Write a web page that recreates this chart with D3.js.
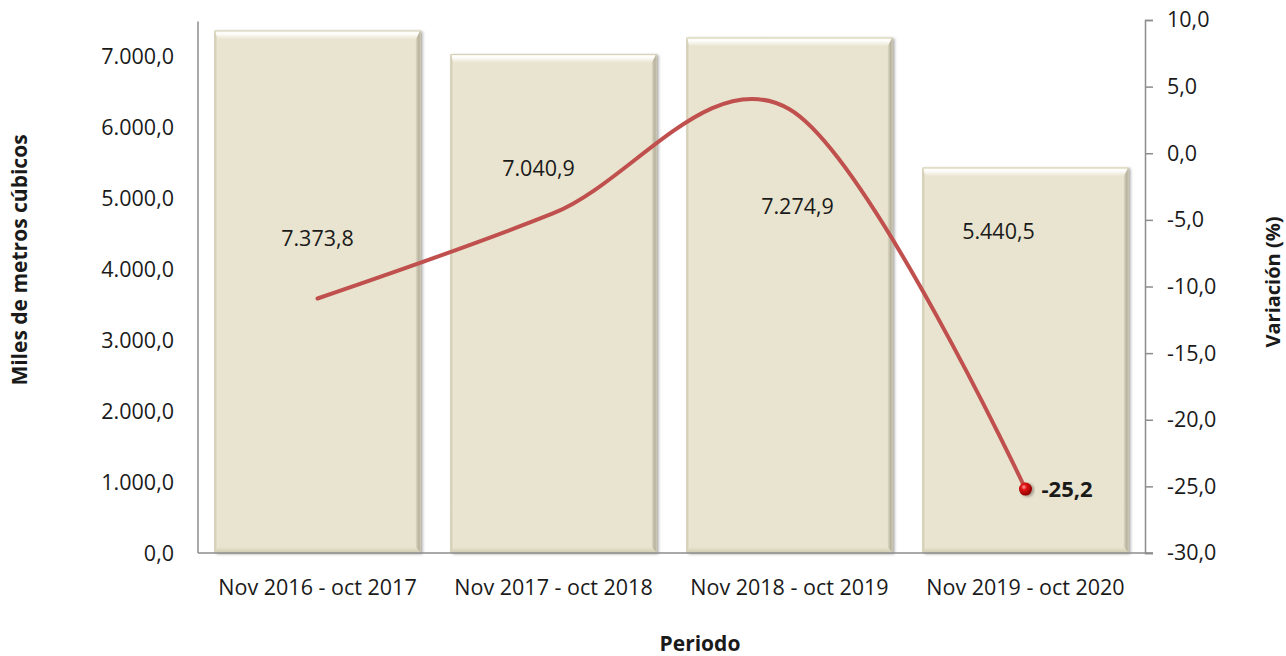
<!DOCTYPE html>
<html>
<head>
<meta charset="utf-8">
<script src="https://cdn.jsdelivr.net/npm/d3@7"></script>
<style>
  body { margin: 0; background: #fff; }
  text { font-family: "Open Sans", "Noto Sans", sans-serif; fill: #1a1a1a; }
  .tick-label { font-size: 21.5px; }
  .axis-title { font-size: 21px; font-weight: bold; }
</style>
</head>
<body>
<svg id="chart"></svg>
<script>
// Datos
const periodos = ["Nov 2016 - oct 2017", "Nov 2017 - oct 2018", "Nov 2018 - oct 2019", "Nov 2019 - oct 2020"];
const volumen = [7373.8, 7040.9, 7274.9, 5440.5];
const variacion = [-10.9, -4.5, 3.3, -25.2];
const ticksIzq = [0, 1000, 2000, 3000, 4000, 5000, 6000, 7000];
const ticksDer = [-30, -25, -20, -15, -10, -5, 0, 5, 10];

// Posición de las etiquetas de las barras (desplazamiento x en px, altura en unidades del eje izq.)
const etiquetaDx = [0, -15, 8, -27];
const etiquetaY = [4445, 5433, 4883, 4544];

const width = 1286, height = 656;
const margin = { top: 20, right: 141, bottom: 103, left: 198 };

const svg = d3.select("#chart").attr("width", width).attr("height", height);

const fmt = d3.formatLocale({ decimal: ",", thousands: ".", grouping: [3], minus: "-" }).format(",.1f");

const x = d3.scaleBand()
    .domain(periodos)
    .range([margin.left, width - margin.right])
    .paddingInner(0.127)
    .paddingOuter(0.07);

const yL = d3.scaleLinear().domain([0, 7500]).range([height - margin.bottom, 21.5]);
const yR = d3.scaleLinear().domain([-30, 10]).range([height - margin.bottom, margin.top]);

const defs = svg.append("defs");
const sh = defs.append("filter").attr("id", "sombra").attr("x", "-10%").attr("y", "-10%").attr("width", "130%").attr("height", "130%");
sh.append("feDropShadow").attr("dx", 2).attr("dy", 1).attr("stdDeviation", 1.8).attr("flood-color", "#000").attr("flood-opacity", 0.35);

const gTop = defs.append("linearGradient").attr("id", "bTop").attr("x1", 0).attr("y1", 0).attr("x2", 0).attr("y2", 1);
gTop.append("stop").attr("offset", "0%").attr("stop-color", "#f4f0de");
gTop.append("stop").attr("offset", "30%").attr("stop-color", "#ffffff");
gTop.append("stop").attr("offset", "100%").attr("stop-color", "#e9e4cf");

const gRight = defs.append("linearGradient").attr("id", "bRight").attr("x1", 0).attr("y1", 0).attr("x2", 1).attr("y2", 0);
gRight.append("stop").attr("offset", "0%").attr("stop-color", "#e2ddc6");
gRight.append("stop").attr("offset", "100%").attr("stop-color", "#9e9a88");

const gBot = defs.append("linearGradient").attr("id", "bBot").attr("x1", 0).attr("y1", 0).attr("x2", 0).attr("y2", 1);
gBot.append("stop").attr("offset", "0%").attr("stop-color", "#e9e4cf");
gBot.append("stop").attr("offset", "100%").attr("stop-color", "#cfc9b0");

const gLeft = defs.append("linearGradient").attr("id", "bLeft").attr("x1", 0).attr("y1", 0).attr("x2", 1).attr("y2", 0);
gLeft.append("stop").attr("offset", "0%").attr("stop-color", "#c9c4ad");
gLeft.append("stop").attr("offset", "100%").attr("stop-color", "#ebe6d2");

const gBola = defs.append("radialGradient").attr("id", "bola").attr("cx", "38%").attr("cy", "35%").attr("r", "65%");
gBola.append("stop").attr("offset", "0%").attr("stop-color", "#ff9a9a");
gBola.append("stop").attr("offset", "35%").attr("stop-color", "#e01010");
gBola.append("stop").attr("offset", "100%").attr("stop-color", "#8a0000");

// Barras
const barras = svg.append("g");
periodos.forEach((p, i) => {
    const x0 = x(p), x1 = x(p) + x.bandwidth();
    const y0 = yL(volumen[i]), y1 = yL(0);
    const g = barras.append("g");
    g.append("rect")
        .attr("x", x0).attr("y", y0)
        .attr("width", x1 - x0).attr("height", y1 - y0)
        .attr("fill", "#e9e4cf")
        .attr("filter", "url(#sombra)");
    const t = 9, r = 5, b = 6, l = 3;
    const poly = (pts, fill) => g.append("polygon").attr("points", pts.map(d => d.join(",")).join(" ")).attr("fill", fill);
    poly([[x0, y0], [x1, y0], [x1 - r, y0 + t], [x0 + l, y0 + t]], "url(#bTop)");
    poly([[x1, y0], [x1, y1], [x1 - r, y1 - b], [x1 - r, y0 + t]], "url(#bRight)");
    poly([[x0, y1], [x1, y1], [x1 - r, y1 - b], [x0 + l, y1 - b]], "url(#bBot)");
    poly([[x0, y0], [x0 + l, y0 + t], [x0 + l, y1 - b], [x0, y1]], "url(#bLeft)");
    g.append("rect")
        .attr("x", x0 + 0.5).attr("y", y0 + 0.5)
        .attr("width", x1 - x0 - 1).attr("height", y1 - y0 - 1)
        .attr("fill", "none").attr("stroke", "#d6d0b6").attr("stroke-width", 1);
});

// Etiquetas de las barras
svg.append("g").selectAll("text")
    .data(periodos)
    .join("text")
    .attr("class", "tick-label")
    .attr("x", (d, i) => x(d) + x.bandwidth() / 2 + etiquetaDx[i])
    .attr("y", (d, i) => yL(etiquetaY[i]))
    .attr("dy", "0.35em")
    .attr("text-anchor", "middle")
    .text((d, i) => fmt(volumen[i]));

// Ejes
const ejeColor = "#8c8c8c";
svg.append("line")
    .attr("x1", margin.left).attr("x2", margin.left)
    .attr("y1", yL(7500)).attr("y2", yL(0))
    .attr("stroke", ejeColor).attr("stroke-width", 1.5);
svg.append("line")
    .attr("x1", margin.left).attr("x2", width - margin.right + 8)
    .attr("y1", yL(0)).attr("y2", yL(0))
    .attr("stroke", ejeColor).attr("stroke-width", 1.5);

svg.append("g").selectAll("text")
    .data(ticksIzq)
    .join("text")
    .attr("class", "tick-label")
    .attr("x", 174)
    .attr("y", d => yL(d))
    .attr("dy", "0.35em")
    .attr("text-anchor", "end")
    .text(d => fmt(d));

const ejeDer = svg.append("g")
    .attr("transform", `translate(${width - margin.right},0)`)
    .call(d3.axisRight(yR).tickValues(ticksDer).tickSize(8).tickPadding(14).tickFormat(fmt));
ejeDer.attr("font-size", null).attr("font-family", null);
ejeDer.select(".domain").attr("stroke", ejeColor).attr("stroke-width", 1.5);
ejeDer.selectAll(".tick line").attr("stroke", ejeColor).attr("stroke-width", 1.5);
ejeDer.selectAll(".tick text").attr("class", "tick-label").attr("fill", "#1a1a1a");

svg.append("g").selectAll("text")
    .data(periodos)
    .join("text")
    .attr("class", "tick-label")
    .attr("x", d => x(d) + x.bandwidth() / 2)
    .attr("y", 587)
    .attr("dy", "0.35em")
    .attr("text-anchor", "middle")
    .text(d => d);

// Títulos de los ejes
svg.append("text")
    .attr("class", "axis-title")
    .attr("transform", "rotate(-90)")
    .attr("x", -260).attr("y", 20)
    .attr("dy", "0.35em")
    .attr("text-anchor", "middle")
    .text("Miles de metros cúbicos");

svg.append("text")
    .attr("class", "axis-title")
    .attr("transform", "rotate(-90)")
    .attr("x", -282).attr("y", 1273)
    .attr("dy", "0.35em")
    .attr("text-anchor", "middle")
    .style("font-size", "20px")
    .text("Variación (%)");

svg.append("text")
    .attr("class", "axis-title")
    .attr("x", 700).attr("y", 651)
    .attr("text-anchor", "middle")
    .text("Periodo");

// Línea de variación
const linea = d3.line()
    .x((d, i) => x(periodos[i]) + x.bandwidth() / 2)
    .y(d => yR(d))
    .curve(d3.curveCardinal.tension(0));

svg.append("path")
    .datum(variacion)
    .attr("d", linea)
    .attr("fill", "none")
    .attr("stroke", "#c0504d")
    .attr("stroke-width", 4)
    .attr("stroke-linecap", "round");

const ult = variacion.length - 1;
const px = x(periodos[ult]) + x.bandwidth() / 2;
svg.append("circle")
    .attr("cx", px).attr("cy", yR(variacion[ult]))
    .attr("r", 6.5)
    .attr("fill", "url(#bola)")
    .attr("filter", "url(#sombra)");

svg.append("text")
    .attr("x", px + 16).attr("y", yR(variacion[ult]))
    .attr("dy", "0.35em")
    .style("font-size", "22px")
    .style("font-weight", "bold")
    .text(fmt(variacion[ult]));
</script>
</body>
</html>
